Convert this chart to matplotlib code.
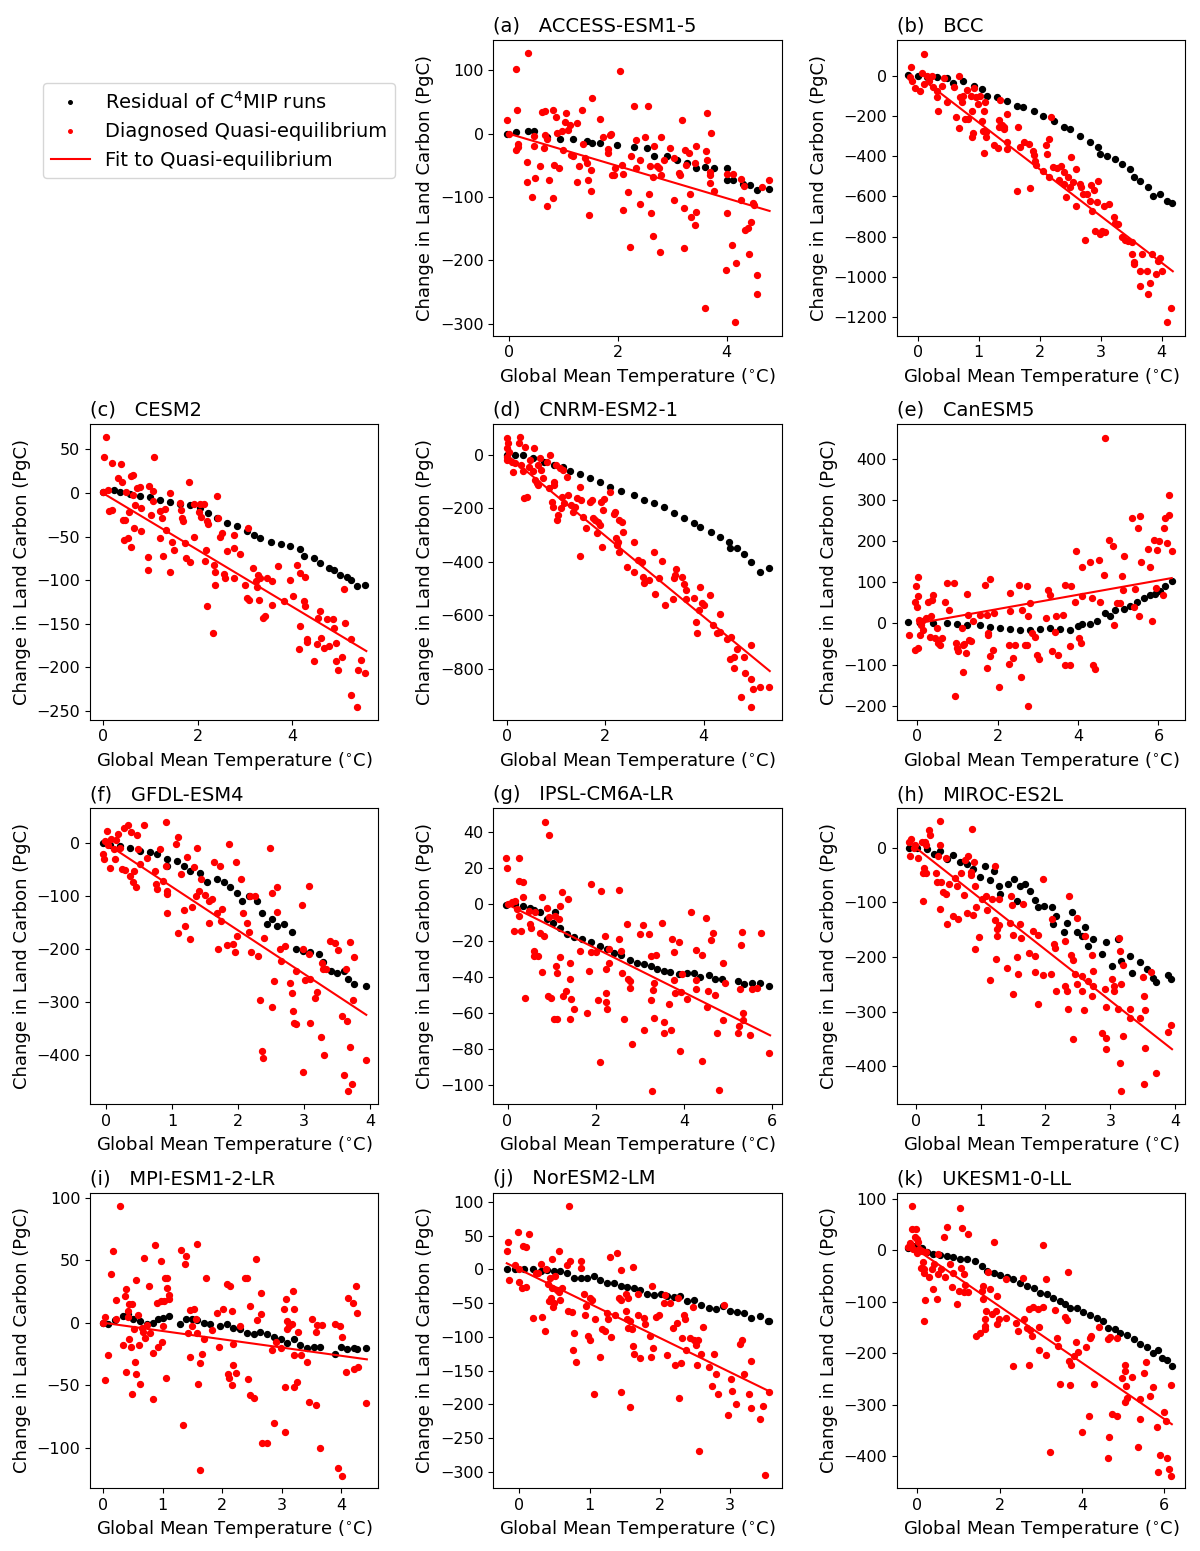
import numpy as np
import matplotlib
matplotlib.use("Agg")
import matplotlib.pyplot as plt
from matplotlib.lines import Line2D
from matplotlib.ticker import MultipleLocator

# ---- data (temperature in degC, carbon in PgC) ----

# (a) ACCESS-ESM1-5
access_q_t = [-0.03, 0, 0.13, 0.15, 0.13, 0.18, 0.17, 0.36, 0.34, 0.34, 0.42, 0.46, 0.47, 0.49, 0.57, 0.61, 0.67,
              0.66, 0.64, 0.70, 0.70, 0.74, 0.81, 0.81, 0.84, 0.86, 0.88, 0.92, 0.98, 0.99, 1.03, 1.06, 1.09, 1.12,
              1.15, 1.19, 1.26, 1.29, 1.26, 1.34, 1.36, 1.41, 1.44, 1.45, 1.48, 1.53, 1.52, 1.52, 1.68, 1.73, 1.82,
              1.82, 1.86, 1.88, 1.89, 1.94, 1.95, 2.05, 2.08, 2.09, 2.10, 2.19, 2.22, 2.24, 2.30, 2.33, 2.33, 2.41,
              2.41, 2.50, 2.55, 2.57, 2.59, 2.61, 2.65, 2.65, 2.66, 2.73, 2.76, 2.77, 2.80, 2.80, 2.85, 2.96, 3.03,
              3.04, 3.13, 3.14, 3.18, 3.21, 3.21, 3.23, 3.26, 3.31, 3.32, 3.35, 3.42, 3.43, 3.43, 3.42, 3.61, 3.62,
              3.65, 3.65, 3.69, 3.69, 3.70, 3.72, 3.77, 3.99, 4.00, 4.01, 4.10, 4.12, 4.15, 4.17, 4.26, 4.27, 4.32,
              4.33, 4.39, 4.41, 4.44, 4.48, 4.51, 4.55, 4.55, 4.65, 4.77]
access_q_c = [21, 0, 102, 38, -26, -16, -21, 128, -44, -76, -100, -4, -19, -70, -51, 34, 36, -2, -23, -8, -115, -73,
              38, -102, -49, 26, 1, -54, 5, -26, 18, 32, 6, 14, -34, -35, 17, -51, -76, 38, -16, -38, -46, -74, -129,
              57, -58, -90, 23, -5, -24, -31, -2, -1, -65, -66, -55, 99, -49, -121, -63, -92, -179, -36, 43, -10, -54,
              -111, -41, -5, 43, -96, -51, -125, -161, -68, -19, -51, -55, -187, -6, -65, -42, -22, -39, -105, -62,
              -66, 21, -118, -180, -26, -49, -30, -95, -132, -144, -19, -123, -47, -275, -27, 33, -42, -65, -61, -78,
              1, -90, -216, -125, -63, -176, -64, -298, -205, -105, -71, -82, -152, -149, -190, -139, -110, -113,
              -253, -224, -85, -74]
access_r_t = [-0.03, 0.13, 0.36, 0.46, 0.70, 0.95, 1.19, 1.44, 1.53, 1.68, 1.99, 2.30, 2.54, 2.66, 2.91, 3.09, 3.28,
              3.43, 3.61, 3.77, 4.00, 4.00, 4.12, 4.30, 4.43, 4.55, 4.77]
access_r_c = [0, 3, 5, 4, -6, -8, -8, -11, -14, -14, -18, -21, -23, -35, -36, -42, -47, -55, -52, -55, -54, -73, -73,
              -79, -81, -89, -88]

# (b) BCC
bcc_q_t = [-0.11, -0.12, -0.09, -0.04, 0.04, 0.11, 0.07, 0.11, 0.15, 0.18, 0.23, 0.26, 0.31, 0.34, 0.32, 0.40, 0.44,
           0.48, 0.59, 0.63, 0.67, 0.68, 0.70, 0.73, 0.75, 0.78, 0.82, 0.81, 0.88, 0.89, 0.89, 0.91, 0.93, 0.96, 0.99,
           1.03, 1.05, 1.07, 1.08, 1.10, 1.08, 1.12, 1.12, 1.25, 1.31, 1.34, 1.34, 1.35, 1.38, 1.41, 1.42, 1.46, 1.46,
           1.47, 1.63, 1.64, 1.68, 1.75, 1.82, 1.84, 1.89, 1.90, 1.93, 1.94, 2.06, 2.11, 2.12, 2.16, 2.16, 2.18, 2.22,
           2.28, 2.31, 2.35, 2.39, 2.40, 2.43, 2.47, 2.49, 2.51, 2.54, 2.59, 2.60, 2.66, 2.67, 2.71, 2.74, 2.77, 2.83,
           2.84, 2.85, 2.89, 2.91, 2.94, 2.95, 2.99, 3.02, 3.07, 3.05, 3.14, 3.22, 3.24, 3.29, 3.34, 3.40, 3.45, 3.51,
           3.52, 3.55, 3.55, 3.64, 3.67, 3.64, 3.75, 3.78, 3.81, 3.84, 3.91, 3.94, 3.97, 4.00, 4.08, 4.15]
bcc_q_c = [41, -8, -25, -61, -75, 108, 12, -41, 0, -25, 0, -58, -108, -177, -78, -50, -12, -132, -55, -207, 0, -262,
           -108, -132, -99, -215, -215, -71, -103, -177, -306, -286, -61, -108, -141, -99, -224, -276, -386, -132,
           -177, -306, -281, -343, -359, -257, -220, -119, -243, -265, -253, -190, -364, -331, -571, -257, -356, -331,
           -339, -558, -373, -392, -425, -442, -475, -343, -389, -315, -505, -207, -452, -460, -517, -447, -538, -480,
           -601, -505, -555, -406, -530, -464, -646, -538, -555, -588, -816, -588, -621, -541, -674, -568, -770, -629,
           -521, -786, -773, -775, -646, -637, -700, -733, -737, -803, -816, -820, -828, -886, -927, -935, -972, -886,
           -1043, -969, -1084, -1031, -886, -985, -919, -906, -969, -1225, -1154]
bcc_r_t = [-0.15, 0.0, 0.15, 0.32, 0.48, 0.58, 0.75, 0.92, 1.05, 1.13, 1.30, 1.46, 1.63, 1.73, 1.90, 2.06, 2.23, 2.39,
           2.50, 2.66, 2.83, 2.96, 2.99, 3.10, 3.24, 3.34, 3.48, 3.54, 3.64, 3.78, 3.86, 3.97, 4.08, 4.16]
bcc_r_c = [5, 0, -5, -5, -12, -38, -28, -50, -66, -99, -108, -124, -149, -157, -174, -199, -223, -257, -265, -298,
           -331, -356, -389, -397, -414, -439, -464, -502, -522, -555, -596, -588, -621, -634]

# (c) CESM2
cesm_q_t = [0.01, 0.03, 0.06, 0.12, 0.14, 0.19, 0.19, 0.33, 0.39, 0.40, 0.42, 0.45, 0.47, 0.49, 0.53, 0.56, 0.59,
            0.59, 0.63, 0.63, 0.65, 0.68, 0.72, 0.79, 0.80, 0.80, 0.95, 0.95, 0.98, 1.01, 1.05, 1.06, 1.07, 1.20,
            1.20, 1.25, 1.28, 1.32, 1.33, 1.41, 1.42, 1.46, 1.51, 1.62, 1.65, 1.67, 1.69, 1.74, 1.76, 1.81, 1.85,
            1.92, 1.93, 2.02, 2.06, 2.07, 2.13, 2.15, 2.17, 2.20, 2.20, 2.23, 2.32, 2.34, 2.36, 2.37, 2.42, 2.44,
            2.48, 2.51, 2.55, 2.58, 2.62, 2.76, 2.76, 2.77, 2.90, 3.01, 3.04, 3.06, 3.08, 3.17, 3.24, 3.25, 3.27,
            3.29, 3.32, 3.38, 3.43, 3.46, 3.57, 3.58, 3.69, 3.82, 3.96, 4.01, 4.10, 4.15, 4.17, 4.17, 4.27, 4.25,
            4.27, 4.30, 4.31, 4.45, 4.52, 4.54, 4.59, 4.61, 4.66, 4.73, 4.77, 4.86, 4.87, 4.91, 4.92, 4.96, 5.05,
            5.08, 5.11, 5.23, 5.23, 5.37, 5.39, 5.44, 5.54]
cesm_q_c = [1, 41, 64, 4, -21, -19, 34, 17, 33, 13, -31, -54, -31, 1, -52, -22, -62, 19, 21, -2, -40, -14, 6, 7, -43,
            -17, -73, -88, 8, -25, 2, -9, 41, -21, -52, -29, -72, -18, -42, -90, 0, -56, -65, -11, -19, -29, -32, -57,
            -74, 13, -79, -50, -13, -22, -13, -28, -12, -78, -65, -32, -129, -36, -161, -83, -105, -91, -3, -29, -50,
            -46, -93, -98, -67, -48, -63, -98, -70, -106, -120, -40, -123, -86, -101, -108, -94, -123, -97, -143,
            -141, -98, -101, -128, -84, -124, -100, -118, -82, -179, -92, -153, -96, -124, -129, -168, -171, -193,
            -173, -143, -135, -166, -178, -145, -175, -145, -155, -193, -172, -203, -188, -110, -149, -232, -167,
            -245, -203, -191, -206]
cesm_r_t = [0.0, 0.23, 0.37, 0.58, 0.79, 1.00, 1.21, 1.42, 1.63, 1.85, 2.06, 2.23, 2.41, 2.62, 2.83, 3.04, 3.18, 3.32,
            3.54, 3.75, 3.96, 4.17, 4.24, 4.45, 4.59, 4.77, 4.87, 5.01, 5.15, 5.23, 5.37, 5.54]
cesm_r_c = [1, 3, 1, -1, -3, -5, -8, -10, -13, -14, -17, -23, -29, -34, -38, -43, -48, -51, -56, -59, -61, -64, -72,
            -75, -80, -86, -88, -94, -96, -100, -107, -105]

# (d) CNRM-ESM2-1
cnrm_q_t = [0.01, 0.02, 0, 0.01, 0, 0.05, 0.1, 0.12, 0.17, 0.24, 0.27, 0.28, 0.33, 0.35, 0.37, 0.41, 0.46, 0.47, 0.53,
            0.56, 0.58, 0.61, 0.64, 0.64, 0.68, 0.69, 0.73, 0.81, 0.85, 0.87, 0.92, 0.94, 0.95, 0.96, 1.0, 1.03, 1.05,
            1.08, 1.10, 1.12, 1.14, 1.17, 1.22, 1.25, 1.30, 1.34, 1.39, 1.42, 1.49, 1.49, 1.51, 1.55, 1.61, 1.69, 1.73,
            1.76, 1.80, 1.83, 1.86, 1.90, 1.92, 1.93, 1.95, 1.97, 2.09, 2.17, 2.20, 2.22, 2.24, 2.25, 2.27, 2.27, 2.34,
            2.36, 2.44, 2.58, 2.59, 2.66, 2.75, 2.77, 2.78, 2.88, 2.98, 3.02, 3.10, 3.15, 3.22, 3.38, 3.40, 3.42, 3.44,
            3.56, 3.59, 3.63, 3.63, 3.80, 3.85, 3.86, 3.90, 3.93, 3.97, 4.01, 4.12, 4.19, 4.27, 4.33, 4.34, 4.47, 4.53,
            4.56, 4.61, 4.61, 4.68, 4.76, 4.81, 4.83, 4.95, 4.96, 4.96, 5.0, 5.15, 5.32]
cnrm_q_c = [65, 44, 25, -6, -19, 12, -25, -65, -31, 44, 66, -37, -62, -162, 31, -156, -44, -19, -59, 25, -94, -106,
            -112, -37, -12, -56, -87, -25, -125, 0, -175, -194, -100, -112, -37, -244, -225, -50, -200, -156, -56, -181,
            -81, -150, -187, -212, -194, -162, -119, -377, -169, -231, -275, -175, -169, -237, -244, -294, -250, -262,
            -175, -345, -206, -165, -137, -222, -215, -312, -337, -325, -362, -244, -252, -287, -419, -325, -437,
            -394, -400, -456, -481, -469, -362, -519, -462, -396, -560, -541, -462, -450, -427, -456, -485, -504,
            -541, -537, -627, -665, -581, -496, -556, -562, -525, -637, -665, -596, -662, -690, -765, -681, -756,
            -797, -725, -906, -756, -815, -712, -837, -944, -875, -869, -869]
cnrm_r_t = [0.0, 0.17, 0.34, 0.54, 0.75, 0.95, 1.15, 1.29, 1.49, 1.69, 1.90, 2.10, 2.31, 2.58, 2.78, 2.98, 3.19, 3.39,
            3.59, 3.80, 3.93, 4.14, 4.34, 4.51, 4.54, 4.68, 4.81, 4.95, 5.15, 5.32]
cnrm_r_c = [0, 0, -2, -10, -25, -37, -44, -60, -72, -85, -100, -119, -135, -150, -169, -181, -194, -219, -237, -256,
            -269, -287, -306, -325, -350, -350, -369, -400, -437, -425]

# (e) CanESM5
can_q_t = [-0.2, -0.06, -0.06, -0.03, -0.02, 0.01, 0.02, 0.02, 0.05, 0.07, 0.08, 0.11, 0.15, 0.22, 0.27, 0.32, 0.33,
           0.36, 0.40, 0.44, 0.48, 0.52, 0.56, 0.61, 0.69, 0.73, 0.80, 0.90, 0.94, 0.95, 0.98, 1.0, 1.10, 1.13, 1.13,
           1.16, 1.20, 1.24, 1.25, 1.29, 1.33, 1.38, 1.56, 1.68, 1.73, 1.74, 1.75, 1.77, 1.81, 1.81, 1.88, 1.91, 2.04,
           2.27, 2.27, 2.31, 2.31, 2.37, 2.43, 2.54, 2.57, 2.60, 2.68, 2.72, 2.74, 2.76, 2.76, 2.81, 2.85, 2.93, 2.97,
           3.02, 3.20, 3.24, 3.29, 3.34, 3.42, 3.45, 3.49, 3.63, 3.68, 3.68, 3.79, 3.80, 3.82, 3.93, 3.95, 4.03, 4.07,
           4.09, 4.09, 4.30, 4.34, 4.37, 4.42, 4.51, 4.55, 4.65, 4.67, 4.76, 4.88, 4.90, 4.96, 5.05, 5.09, 5.11, 5.15,
           5.34, 5.38, 5.42, 5.48, 5.52, 5.54, 5.56, 5.75, 5.79, 5.83, 5.89, 5.93, 5.97, 6.02, 6.14, 6.12, 6.17, 6.21,
           6.25, 6.27, 6.33]
can_q_c = [-29, -64, 53, 90, 41, 112, 66, -60, 9, -29, -3, 5, -15, 13, 53, -32, 19, 57, 68, -36, -11, -48, -52, -36,
           52, 98, 32, 98, -177, -48, -60, -66, -11, -52, -118, -50, -72, 71, 21, -40, -44, 6, 21, 94, -108, 21, -23,
           -29, 108, -80, -64, 25, -155, -53, -99, 31, 74, -83, -52, 94, -131, 33, -53, 90, -52, -201, 17, 49, -23,
           -32, -78, -86, 13, 80, 70, -66, -21, 17, -76, 21, 94, -100, -100, -56, 91, 52, 175, -36, -48, 66, 136, 150,
           61, -100, -112, 155, 53, 117, 451, 203, 189, -5, 49, 49, 114, 82, 163, 256, 41, 84, 231, 17, 260, 150, 181,
           138, 5, 203, 87, 178, 199, 231, 68, 256, 195, 311, 264, 175]
can_r_t = [-0.22, 0.07, 0.40, 0.73, 0.98, 1.23, 1.56, 1.81, 2.06, 2.31, 2.56, 2.80, 3.05, 3.30, 3.55, 3.80, 4.01, 4.09,
           4.30, 4.46, 4.67, 4.80, 4.92, 5.13, 5.29, 5.46, 5.63, 5.79, 5.92, 6.04, 6.17, 6.33]
can_r_c = [3, 2, 1, 1, -2, -5, -5, -9, -11, -13, -17, -15, -13, -11, -14, -15, -7, -2, -1, 5, 25, 17, 33, 35, 43, 53,
           61, 68, 71, 78, 90, 104]

# (f) GFDL-ESM4
gfdl_q_t = [-0.05, -0.03, -0.01, 0.02, 0.03, 0.06, 0.08, 0.12, 0.14, 0.16, 0.19, 0.21, 0.24, 0.27, 0.29, 0.34, 0.37,
            0.38, 0.41, 0.42, 0.46, 0.47, 0.48, 0.52, 0.58, 0.62, 0.75, 0.76, 0.78, 0.82, 0.86, 0.91, 0.91, 0.92, 0.93,
            0.93, 1.06, 1.09, 1.09, 1.13, 1.18, 1.20, 1.23, 1.27, 1.30, 1.33, 1.37, 1.38, 1.41, 1.44, 1.50, 1.56, 1.56,
            1.60, 1.64, 1.68, 1.70, 1.73, 1.74, 1.76, 1.83, 1.87, 1.93, 1.95, 1.97, 1.99, 2.04, 2.07, 2.13, 2.16, 2.18,
            2.20, 2.26, 2.30, 2.33, 2.36, 2.38, 2.39, 2.48, 2.51, 2.51, 2.54, 2.59, 2.59, 2.63, 2.65, 2.71, 2.78, 2.82,
            2.83, 2.84, 2.87, 2.88, 2.97, 2.99, 2.98, 3.02, 3.07, 3.08, 3.09, 3.09, 3.16, 3.20, 3.26, 3.27, 3.29, 3.30,
            3.33, 3.39, 3.46, 3.51, 3.57, 3.60, 3.64, 3.65, 3.66, 3.69, 3.70, 3.72, 3.74, 3.76, 3.93]
gfdl_q_c = [-20, -30, 5, 24, -3, -47, 9, -11, -30, 6, 18, -8, -49, 28, -50, 35, -61, 22, -74, -52, -83, 16, -11, -39,
            35, -28, -52, -77, -86, -11, -71, 41, -42, -91, -96, -131, -1, 11, -170, -58, -126, -156, -26, -181, -121,
            -44, -99, -8, -90, -68, -98, -109, -151, -105, -36, -132, -200, -42, -146, -124, -192, -1, -191, -206, -35,
            -175, -68, -132, -151, -168, -99, -205, -99, -213, -296, -392, -406, -178, -9, -309, -94, -260, -129, -82,
            -199, -222, -194, -263, -282, -317, -339, -342, -241, -116, -432, -200, -258, -209, -81, -339, -256, -292,
            -281, -366, -226, -238, -400, -237, -185, -189, -201, -327, -437, -237, -336, -468, -384, -186, -455, -296,
            -214, -409]
gfdl_r_t = [-0.05, 0.07, 0.22, 0.37, 0.52, 0.67, 0.77, 0.92, 0.92, 1.07, 1.18, 1.28, 1.43, 1.53, 1.68, 1.78, 1.88,
            1.98, 2.06, 2.16, 2.29, 2.36, 2.44, 2.51, 2.59, 2.69, 2.82, 2.87, 2.99, 3.09, 3.22, 3.29, 3.40, 3.50, 3.60,
            3.67, 3.75, 3.93]
gfdl_r_c = [1, -3, -6, -8, -14, -17, -20, -30, -42, -33, -42, -52, -56, -74, -68, -74, -83, -93, -109, -99, -109, -131,
            -153, -143, -156, -153, -168, -199, -203, -206, -209, -224, -241, -244, -241, -257, -266, -269]

# (g) IPSL-CM6A-LR
ipsl_q_t = [-0.03, -0.02, 0.02, 0.1, 0.14, 0.17, 0.21, 0.25, 0.25, 0.27, 0.30, 0.35, 0.36, 0.39, 0.48, 0.51, 0.53,
            0.59, 0.61, 0.63, 0.68, 0.74, 0.78, 0.78, 0.83, 0.85, 0.89, 0.91, 0.93, 0.95, 0.98, 1.06, 1.08, 1.10, 1.12,
            1.13, 1.16, 1.18, 1.20, 1.23, 1.26, 1.33, 1.38, 1.41, 1.41, 1.41, 1.44, 1.51, 1.65, 1.80, 1.84, 1.89, 1.88,
            2.01, 2.04, 2.09, 2.12, 2.20, 2.22, 2.22, 2.24, 2.25, 2.29, 2.31, 2.52, 2.52, 2.56, 2.59, 2.63, 2.71, 2.72,
            2.77, 2.78, 2.82, 3.0, 3.07, 3.09, 3.20, 3.24, 3.25, 3.28, 3.30, 3.31, 3.33, 3.37, 3.50, 3.54, 3.55, 3.65,
            3.71, 3.73, 3.77, 3.78, 3.80, 3.88, 3.90, 3.93, 3.96, 4.06, 4.16, 4.26, 4.27, 4.28, 4.41, 4.41, 4.49, 4.52,
            4.54, 4.61, 4.66, 4.71, 4.75, 4.79, 4.89, 4.89, 4.92, 5.22, 5.24, 5.26, 5.30, 5.32, 5.34, 5.34, 5.49, 5.54,
            5.66, 5.75, 5.92]
ipsl_q_c = [25.6, 20, 0.2, 1.1, -14.6, 2, -2.6, 25.6, 13.1, -6.3, -14.6, 3.9, 12.2, -51.7, -3.5, -10.9, -12.8, -25.7,
            -28.5, -4.4, -28.5, -15.6, 3.9, -37.4, -17.4, 45.9, -1.7, -50.7, 38.5, -7.2, -51.7, -63.7, -6.3, -34.1,
            -37.8, -63.7, -8.1, -29.4, -1.1, 7, -50.7, -48, 3, -32.2, -41.1, -63.3, -52.2, -57.8, -25.7, -60, -36.9,
            11.3, -26.3, -26.3, -53, -87.4, 7.6, -17.4, -49.3, -54.1, -35.6, -57.8, -32.6, -24.8, -18.9, 8.1, -25.7,
            -38.1, -63.3, -10.9, -41.5, -42.4, -46.5, -77.6, -16.5, -11.5, -69.6, -16.5, -53, -28.5, -103.3, -47.4,
            -43.7, -62.8, -28.1, -10.4, -65.2, -71.1, -55.4, -69.6, -19.3, -26.3, -41.9, -49.3, -20.7, -81.3, -48.5,
            -38.7, -52.6, -4.4, -25.2, -41.9, -46.7, -28.1, -86.9, -7.6, -56.7, -48, -19.6, -16.1, -50.4, -71.5, -103,
            -32.2, -64.1, -43.3, -71.5, -67.4, -47, -22.6, -15.2, -60.4, -64.1, -72.2, -47, -46.1, -16.1, -82.2]
ipsl_r_t = [-0.03, 0.17, 0.36, 0.51, 0.59, 0.74, 0.89, 1.04, 1.08, 1.20, 1.35, 1.50, 1.69, 1.88, 2.10, 2.25, 2.41,
            2.56, 2.78, 2.93, 3.09, 3.24, 3.39, 3.54, 3.69, 3.88, 4.07, 4.22, 4.37, 4.56, 4.71, 4.86, 5.22, 5.36, 5.54,
            5.73, 5.92]
ipsl_r_c = [-0.4, 0.2, -0.7, -2.2, -3, -4.4, -7.8, -10.4, -4.1, -13.3, -16.5, -18.3, -19.3, -21.1, -23, -24.8, -26.7,
            -28.1, -30.7, -32.2, -33.1, -34.1, -35.6, -36.9, -37.2, -38.7, -38.1, -38.1, -40, -39.3, -41.1, -41.5,
            -42.4, -44.3, -43.7, -43.3, -45.2]

# (h) MIROC-ES2L
miroc_q_t = [-0.11, -0.09, -0.07, -0.03, -0.01, 0.03, 0.10, 0.11, 0.12, 0.13, 0.15, 0.16, 0.16, 0.20, 0.22, 0.32,
             0.33, 0.35, 0.37, 0.37, 0.38, 0.39, 0.42, 0.46, 0.47, 0.49, 0.52, 0.57, 0.61, 0.64, 0.66, 0.70, 0.74, 0.76,
             0.79, 0.81, 0.85, 0.85, 0.87, 0.88, 0.90, 0.92, 0.92, 0.93, 0.98, 1.02, 1.09, 1.10, 1.15, 1.17, 1.23, 1.23,
             1.24, 1.25, 1.26, 1.29, 1.29, 1.41, 1.45, 1.47, 1.48, 1.50, 1.50, 1.56, 1.58, 1.60, 1.62, 1.66, 1.75, 1.81,
             1.84, 1.84, 1.88, 1.88, 1.96, 1.96, 2.08, 2.10, 2.13, 2.15, 2.17, 2.30, 2.30, 2.33, 2.34, 2.37, 2.39, 2.42,
             2.43, 2.46, 2.48, 2.49, 2.56, 2.57, 2.59, 2.61, 2.66, 2.71, 2.71, 2.74, 2.74, 2.87, 2.92, 2.93, 2.94, 2.94,
             3.02, 3.05, 3.05, 3.12, 3.13, 3.15, 3.15, 3.16, 3.16, 3.19, 3.19, 3.30, 3.31, 3.45, 3.50, 3.52, 3.53, 3.53,
             3.52, 3.62, 3.70, 3.89, 3.94]
miroc_q_c = [11, -16, 15, -1, 5, -18, 11, -46, -97, -38, 11, -46, 5, 33, 23, -46, -62, -16, 48, -112, 4, -62, -81, -18,
             -85, -140, -67, -125, -56, -70, -130, -46, -87, -22, -119, -15, -50, -44, 35, -123, -27, -70, -186, -109,
             -164, -94, -88, -114, -242, -94, -33, -132, -203, -161, -149, -142, -94, -221, -138, -88, -105, -267,
             -160, -200, -232, -140, -166, -103, -192, -153, -227, -198, -287, -160, -57, -233, -232, -131, -177, -183,
             -262, -254, -171, -262, -295, -88, -197, -351, -205, -232, -128, -250, -235, -262, -297, -161, -244, -197,
             -271, -226, -254, -339, -258, -291, -348, -369, -240, -254, -262, -295, -166, -189, -394, -250, -446,
             -345, -215, -295, -311, -311, -236, -271, -297, -366, -432, -227, -413, -337, -325]
miroc_r_t = [-0.11, 0.02, 0.17, 0.28, 0.38, 0.48, 0.58, 0.69, 0.79, 0.89, 0.99, 1.07, 1.15, 1.20, 1.28, 1.30, 1.43,
             1.51, 1.56, 1.61, 1.69, 1.76, 1.84, 1.89, 1.97, 2.10, 2.11, 2.17, 2.28, 2.33, 2.41, 2.48, 2.56, 2.61, 2.66,
             2.74, 2.87, 2.94, 3.02, 3.12, 3.17, 3.30, 3.33, 3.46, 3.56, 3.66, 3.71, 3.89, 3.94]
miroc_r_c = [0, -1, -2, -12, -6, -20, -13, -27, -30, -39, -53, -33, -59, -42, -70, -85, -67, -57, -97, -70, -67, -79,
             -95, -109, -106, -109, -140, -125, -155, -137, -117, -155, -161, -146, -180, -167, -195, -172, -216, -167,
             -207, -199, -229, -210, -222, -238, -245, -233, -241]

# (i) MPI-ESM1-2-LR
mpi_q_t = [-0.01, 0.03, 0.04, 0.08, 0.13, 0.17, 0.21, 0.22, 0.28, 0.33, 0.37, 0.38, 0.39, 0.41, 0.42, 0.44, 0.44, 0.47,
           0.49, 0.49, 0.52, 0.53, 0.55, 0.55, 0.59, 0.61, 0.62, 0.66, 0.67, 0.69, 0.70, 0.73, 0.77, 0.79, 0.83, 0.84,
           0.87, 0.91, 0.93, 0.97, 0.98, 0.99, 1.01, 1.03, 1.04, 1.05, 1.07, 1.08, 1.10, 1.11, 1.31, 1.35, 1.37, 1.39,
           1.43, 1.46, 1.46, 1.50, 1.52, 1.56, 1.57, 1.58, 1.59, 1.63, 1.63, 1.66, 1.69, 1.73, 1.83, 1.92, 1.94, 2.01,
           2.08, 2.09, 2.12, 2.13, 2.16, 2.17, 2.19, 2.19, 2.24, 2.30, 2.38, 2.42, 2.43, 2.46, 2.47, 2.53, 2.57, 2.58,
           2.66, 2.66, 2.67, 2.75, 2.84, 2.87, 2.91, 2.98, 3.04, 3.06, 3.06, 3.08, 3.09, 3.09, 3.12, 3.17, 3.19, 3.20,
           3.20, 3.21, 3.25, 3.28, 3.33, 3.42, 3.46, 3.51, 3.57, 3.58, 3.60, 3.65, 3.68, 3.90, 3.95, 3.98, 4.01, 4.02,
           4.08, 4.12, 4.19, 4.21, 4.24, 4.27, 4.28, 4.41]
mpi_q_c = [0, 4.5, -46, -26, 39, 57, 18, 3, 93, -18, 21, -39, 27, 9, 4.5, 15, -13, -19, 15, -57, -5, -31, 34, -41, 6,
           -18, -49, -4, -7, 52, -12, -2, 29, -8, -24, -61, 62, 16, -19, 49, 17, -15, -3, 17, 36, -44, 28, 36, 19, 22,
           58, -82, 47, 53, -8, 10, -27, -3, 11, 3, 63, -8, -49, -32, -118, -25, -13, 36, -6, 8, -19, 11, 31, -41, -44,
           29, 9, -50, -17, -34, -40, -3, 36, 36, -45, -58, 13, -60, 51, 2, 24, 7, -96, -96, -22, -80, -15, -20, 11,
           -87, -51, 19, -5, 1, -3, -1, 25, 11, -26, -51, -47, -7, -26, -31, -63, 3, -7, -66, -2, -100, -2, -1, -116,
           -3, -11, -122, -39, 20, 16, -37, 29, 8, -35, -64]
mpi_r_t = [0.0, 0.08, 0.20, 0.34, 0.42, 0.51, 0.62, 0.73, 0.84, 0.93, 1.01, 1.10, 1.29, 1.40, 1.49, 1.57, 1.69, 1.80,
           1.97, 2.08, 2.19, 2.30, 2.42, 2.53, 2.64, 2.75, 2.87, 2.98, 3.09, 3.20, 3.31, 3.43, 3.54, 3.65, 3.90, 3.99,
           4.10, 4.21, 4.27, 4.41]
mpi_r_c = [0, -1, 2, 5, 7, 3, 1, -1, 0, 3, 4, 5, -1, 3, 3, 2, 0, -1, -3, -1, -4, -5, -8, -9, -7, -9, -11, -13, -16,
           -13, -18, -20, -19, -19, -25, -19, -21, -20, -21, -20]

# (j) NorESM2-LM
nor_q_t = [-0.18, -0.16, -0.15, -0.06, -0.02, -0.01, 0, 0.04, 0.05, 0.09, 0.09, 0.13, 0.19, 0.23, 0.26, 0.31, 0.32,
           0.36, 0.38, 0.40, 0.42, 0.43, 0.45, 0.47, 0.47, 0.48, 0.49, 0.51, 0.54, 0.56, 0.57, 0.58, 0.60, 0.68, 0.69,
           0.70, 0.72, 0.75, 0.76, 0.78, 0.81, 0.87, 0.88, 0.92, 0.93, 0.95, 0.97, 1.00, 1.01, 1.03, 1.06, 1.08, 1.14,
           1.18, 1.22, 1.25, 1.26, 1.29, 1.30, 1.36, 1.39, 1.41, 1.44, 1.44, 1.44, 1.51, 1.52, 1.53, 1.54, 1.55, 1.57,
           1.58, 1.60, 1.61, 1.61, 1.63, 1.68, 1.69, 1.71, 1.77, 1.78, 1.86, 1.87, 1.88, 1.90, 1.95, 1.98, 2.05, 2.07,
           2.10, 2.14, 2.19, 2.21, 2.24, 2.26, 2.27, 2.30, 2.31, 2.34, 2.35, 2.37, 2.43, 2.47, 2.48, 2.51, 2.52, 2.54,
           2.55, 2.58, 2.61, 2.70, 2.74, 2.77, 2.79, 2.83, 2.91, 2.97, 3.01, 3.02, 3.08, 3.14, 3.16, 3.20, 3.27, 3.29,
           3.30, 3.42, 3.46, 3.50, 3.55]
nor_q_c = [28, 41, -16, 7, 55, -18, 1, -28, 35, 33, -26, 53, -72, -5, -5, 8, -71, -91, 0, -21, -47, -13, -42, 16, -28,
           -56, -50, -10, -30, -33, 27, -45, -28, 7, -61, 94, 13, -63, -120, -94, -137, 2, 13, -36, -68, -54, -99, -42,
           -104, -45, -185, -74, -130, -88, -91, -64, -73, 18, -100, -67, 25, -42, -1, -45, -182, -62, -37, -74, -43,
           -87, -77, -204, -89, 3, -114, -126, -68, -36, -132, -72, -81, -98, -130, -25, -117, -71, -68, -50, -38,
           -127, -50, -87, -142, -79, -43, -190, -139, -102, -67, -74, -119, -101, -56, -104, -112, -141, -105, -269,
           -126, -86, -144, -173, -125, -155, -185, -53, -216, -162, -180, -200, -111, -104, -155, -185, -136, -206,
           -221, -203, -305, -182]
nor_r_t = [-0.18, -0.06, 0.06, 0.20, 0.30, 0.39, 0.49, 0.58, 0.68, 0.77, 0.87, 0.96, 1.06, 1.15, 1.25, 1.34, 1.44,
           1.53, 1.63, 1.72, 1.82, 1.91, 2.01, 2.10, 2.20, 2.29, 2.39, 2.48, 2.58, 2.70, 2.79, 2.89, 3.00, 3.10, 3.19,
           3.29, 3.43, 3.53, 3.55]
nor_r_c = [1, 1, 1, 0, -2, -1, -2, -3, -5, -12, -13, -12, -10, -15, -20, -20, -25, -26, -28, -31, -36, -38, -37, -40,
           -41, -40, -47, -46, -52, -57, -58, -54, -62, -63, -64, -72, -69, -76, -77]

# (k) UKESM1-0-LL
uk_q_t = [-0.22, -0.18, -0.15, -0.14, -0.14, -0.10, -0.07, -0.04, -0.02, 0, 0.02, 0.05, 0.08, 0.11, 0.13, 0.15, 0.16,
          0.16, 0.19, 0.21, 0.27, 0.35, 0.37, 0.40, 0.47, 0.49, 0.51, 0.57, 0.65, 0.67, 0.73, 0.78, 0.83, 0.86, 0.97,
          1.02, 1.04, 1.06, 1.08, 1.12, 1.12, 1.16, 1.22, 1.24, 1.42, 1.52, 1.56, 1.59, 1.60, 1.64, 1.64, 1.64, 1.67,
          1.72, 1.77, 1.81, 1.85, 1.91, 1.93, 1.94, 1.97, 2.15, 2.15, 2.32, 2.40, 2.45, 2.56, 2.59, 2.67, 2.70, 2.72,
          2.74, 2.78, 2.80, 2.94, 2.96, 2.96, 3.04, 3.06, 3.13, 3.13, 3.21, 3.34, 3.40, 3.42, 3.47, 3.59, 3.63, 3.65,
          3.67, 3.71, 3.72, 3.80, 3.85, 3.91, 3.99, 4.10, 4.18, 4.20, 4.21, 4.29, 4.40, 4.62, 4.64, 4.66, 4.67, 4.73,
          4.86, 4.86, 4.96, 5.04, 5.04, 5.04, 5.07, 5.09, 5.21, 5.37, 5.41, 5.41, 5.51, 5.55, 5.65, 5.72, 5.83, 5.85,
          5.89, 5.98, 6.04, 6.06, 6.12, 6.15, 6.15]
uk_q_c = [6, 13, 10, 86, 41, 2, 26, 41, 21, -6, 15, 2, -34, -1, -22, -44, -37, -138, -97, -3, -53, -37, -76, -27, -94,
          -8, -47, -37, 26, -53, 45, -27, -71, -44, -105, -79, 82, -34, 43, -47, -82, -68, 31, -82, -167, -160, -79,
          -95, -69, -147, -154, -134, -119, -42, -76, -123, 15, -118, -89, -144, -134, -131, -56, -225, -141, -157,
          -55, -134, -152, -223, -115, -156, -167, -110, -115, -193, -149, -110, 10, -204, -56, -392, -117, -171,
          -186, -260, -130, -136, -42, -216, -262, -223, -206, -178, -197, -353, -188, -323, -171, -167, -260, -149,
          -173, -403, -362, -169, -318, -323, -171, -249, -223, -235, -294, -264, -287, -247, -383, -290, -327, -238,
          -217, -284, -266, -344, -430, -397, -315, -331, -403, -425, -438, -262]
uk_r_t = [-0.22, -0.06, 0.11, 0.23, 0.39, 0.55, 0.71, 0.87, 1.04, 1.20, 1.40, 1.56, 1.68, 1.85, 2.01, 2.17, 2.33, 2.49,
          2.66, 2.82, 2.98, 3.14, 3.30, 3.47, 3.59, 3.71, 3.87, 4.03, 4.19, 4.36, 4.52, 4.64, 4.80, 4.92, 5.09, 5.25,
          5.41, 5.57, 5.73, 5.85, 5.94, 6.06, 6.18]
uk_r_c = [4, 8, 4, -3, -8, -9, -12, -14, -18, -18, -21, -31, -40, -44, -48, -52, -56, -63, -69, -73, -84, -86, -92, -99,
          -105, -112, -113, -121, -125, -131, -138, -151, -154, -160, -164, -173, -183, -188, -199, -193, -209, -214,
          -225]

# panel labels, fit slopes (PgC per degC, line through origin) and fitted temperature span
models = ["ACCESS-ESM1-5", "BCC", "CESM2", "CNRM-ESM2-1", "CanESM5", "GFDL-ESM4",
          "IPSL-CM6A-LR", "MIROC-ES2L", "MPI-ESM1-2-LR", "NorESM2-LM", "UKESM1-0-LL"]
letters = ["a", "b", "c", "d", "e", "f", "g", "h", "i", "j", "k"]
fit_slope = [-25.5, -232.5, -32.6, -151.5, 17.4, -82.2, -12.2, -93.4, -6.6, -50.8, -54.7]
fit_t0 = [0.05, 0.2, 0.05, 0.07, 0.0, 0.07, 0.1, 0.02, 0.04, -0.18, 0.1]
fit_t1 = [4.79, 4.18, 5.56, 5.34, 6.33, 3.94, 5.95, 3.95, 4.43, 3.57, 6.18]
xlims = [(-0.28, 5.01), (-0.34, 4.38), (-0.27, 5.81), (-0.27, 5.58), (-0.51, 6.66), (-0.24, 4.12),
         (-0.32, 6.21), (-0.29, 4.15), (-0.22, 4.62), (-0.37, 3.73), (-0.5, 6.5)]
ylims = [(-319, 148), (-1291, 177), (-260, 79), (-991, 115), (-234, 484), (-492, 66),
         (-110.6, 53.3), (-469, 72), (-132, 104), (-324, 114), (-462, 112)]
xstep = [2, 1, 2, 2, 2, 1, 2, 1, 1, 1, 2]
ystep = [100, 200, 50, 200, 100, 100, 20, 100, 50, 50, 100]

quasi = [(access_q_t, access_q_c), (bcc_q_t, bcc_q_c), (cesm_q_t, cesm_q_c), (cnrm_q_t, cnrm_q_c),
         (can_q_t, can_q_c), (gfdl_q_t, gfdl_q_c), (ipsl_q_t, ipsl_q_c), (miroc_q_t, miroc_q_c),
         (mpi_q_t, mpi_q_c), (nor_q_t, nor_q_c), (uk_q_t, uk_q_c)]
resid = [(access_r_t, access_r_c), (bcc_r_t, bcc_r_c), (cesm_r_t, cesm_r_c), (cnrm_r_t, cnrm_r_c),
         (can_r_t, can_r_c), (gfdl_r_t, gfdl_r_c), (ipsl_r_t, ipsl_r_c), (miroc_r_t, miroc_r_c),
         (mpi_r_t, mpi_r_c), (nor_r_t, nor_r_c), (uk_r_t, uk_r_c)]

# ---- plotting ----
fig = plt.figure(figsize=(12, 15.51), dpi=100)
gs = fig.add_gridspec(4, 3, left=0.075, right=0.9875, top=0.9742, bottom=0.0406,
                      wspace=0.40, hspace=0.30)

for i in range(11):
    cell = i + 1
    ax = fig.add_subplot(gs[cell // 3, cell % 3])
    rt, rc = resid[i]
    qt, qc = quasi[i]
    ax.plot(rt, rc, '.', color='k', ms=8.5)
    ax.plot(qt, qc, '.', color='r', ms=8.5)
    tt = np.array([fit_t0[i], fit_t1[i]])
    ax.plot(tt, fit_slope[i] * tt, '-', color='r', lw=1.5)
    ax.set_xlim(*xlims[i])
    ax.set_ylim(*ylims[i])
    ax.xaxis.set_major_locator(MultipleLocator(xstep[i]))
    ax.yaxis.set_major_locator(MultipleLocator(ystep[i]))
    ax.set_title("(%s)   %s" % (letters[i], models[i]), loc='left', fontsize=14)
    ax.set_xlabel(r"Global Mean Temperature ($^{\circ}$C)", fontsize=13)
    ax.set_ylabel("Change in Land Carbon (PgC)", fontsize=13)
    ax.tick_params(labelsize=11.5)

handles = [Line2D([], [], ls='none', marker='.', color='k', ms=8.5),
           Line2D([], [], ls='none', marker='.', color='r', ms=8.5),
           Line2D([], [], color='r', lw=1.5)]
labels = [r"Residual of C$^4$MIP runs", "Diagnosed Quasi-equilibrium", "Fit to Quasi-equilibrium"]
fig.legend(handles, labels, loc='upper left', bbox_to_anchor=(43 / 1200, 1 - 83 / 1551),
           borderaxespad=0, fontsize=14, markerscale=0.6)

fig.savefig("out.png", dpi=100)
